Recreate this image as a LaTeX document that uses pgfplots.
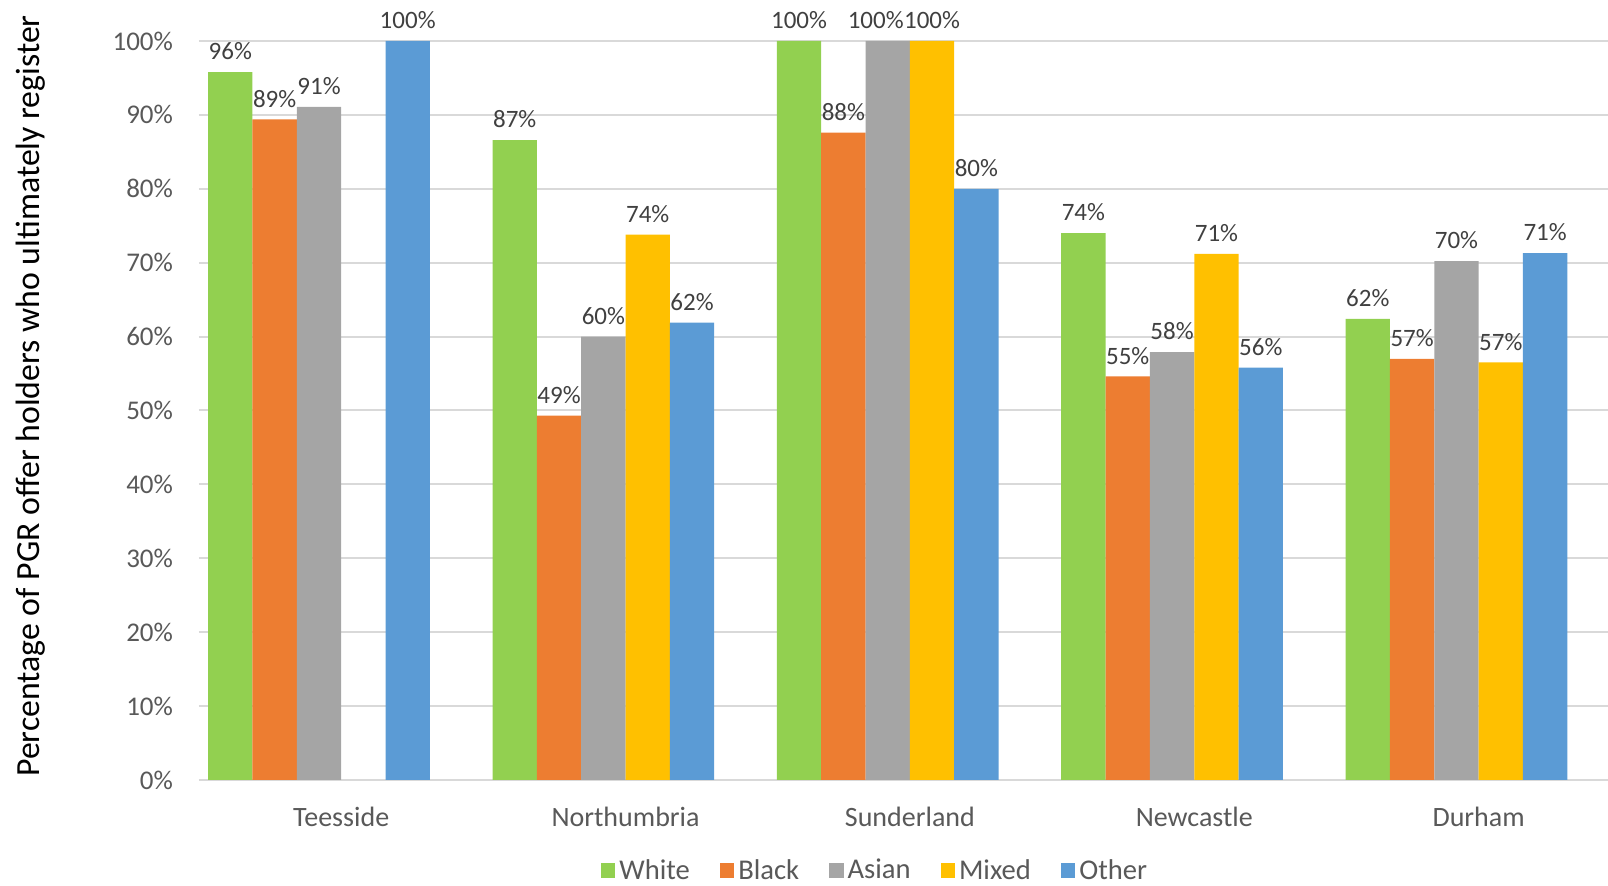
\documentclass[border=0pt]{standalone}
\usepackage{pgfplots}
\usepackage{pgfplotstable}
\pgfplotsset{compat=1.18}
\usepackage{fontspec}
\setmainfont{Carlito}
\definecolor{cWhite}{HTML}{92D050}
\definecolor{cBlack}{HTML}{ED7D31}
\definecolor{cAsian}{HTML}{A5A5A5}
\definecolor{cMixed}{HTML}{FFC000}
\definecolor{cOther}{HTML}{5B9BD5}
\definecolor{gridc}{HTML}{D9D9D9}
\definecolor{tickc}{HTML}{595959}
\definecolor{labc}{HTML}{404040}

\pgfplotstableread{
x y lab
0 95.8 96
1 86.6 87
2 100 100
3 74.0 74
4 62.4 62
}\tWhite
\pgfplotstableread{
x y lab
0 89.4 89
1 49.3 49
2 87.6 88
3 54.6 55
4 57.0 57
}\tBlack
\pgfplotstableread{
x y lab
0 91.1 91
1 60.0 60
2 100 100
3 57.9 58
4 70.2 70
}\tAsian
\pgfplotstableread{
x y lab
1 73.8 74
2 100 100
3 71.2 71
4 56.5 57
}\tMixed
\pgfplotstableread{
x y lab
0 100 100
1 61.9 62
2 80.0 80
3 55.8 56
4 71.3 71
}\tOther

\begin{document}
\begin{tikzpicture}
\begin{axis}[
  at={(0,0)}, anchor=south west,
  scale only axis, width=704.5pt, height=369.5pt,
  xmin=-0.5, xmax=4.455, ymin=0, ymax=100,
  ybar, bar width=22.17pt,
  axis line style={draw=none},
  ytick={0,10,...,100},
  /pgf/number format/assume math mode=true,
  yticklabel={\pgfmathprintnumber{\tick}\%},
  ymajorgrids, grid style={draw=gridc, line width=1pt},
  major tick length=0pt,
  xtick={0,1,2,3,4},
  xticklabels={Teesside,Northumbria,Sunderland,Newcastle,Durham},
  yticklabel style={xshift=-9.5pt, font=\fontsize{13.5}{15}\selectfont, text=tickc},
  xticklabel style={yshift=-10pt, font=\fontsize{14}{16}\selectfont, text=tickc},
  clip=false,
  nodes near coords={\pgfplotspointmeta\%},
  point meta=explicit symbolic,
  nodes near coords style={font=\fontsize{12.5}{14}\selectfont, text=labc, yshift=2.5pt},
  legend style={draw=none, at={(0.4805,-0.1226)}, anchor=center,
    legend columns=5, font=\fontsize{14.3}{16}\selectfont, text=tickc,
    /tikz/every even column/.append style={column sep=13pt}},
]
\addplot[fill=cWhite, draw=none, bar shift=-55.425pt, legend image code/.code={\fill[cWhite] (0pt,-3.5pt) rectangle (7.2pt,3.7pt);}] table[x=x,y=y,meta=lab] {\tWhite};
\addplot[fill=cBlack, draw=none, bar shift=-33.255pt, legend image code/.code={\fill[cBlack] (0pt,-3.5pt) rectangle (7.2pt,3.7pt);}] table[x=x,y=y,meta=lab] {\tBlack};
\addplot[fill=cAsian, draw=none, bar shift=-11.085pt, coordinate style/.condition={x==2}{xshift=-6pt}, legend image code/.code={\fill[cAsian] (0pt,-3.5pt) rectangle (7.2pt,3.7pt);}] table[x=x,y=y,meta=lab] {\tAsian};
\addplot[fill=cMixed, draw=none, bar shift=11.085pt, legend image code/.code={\fill[cMixed] (0pt,-3.5pt) rectangle (7.2pt,3.7pt);}] table[x=x,y=y,meta=lab] {\tMixed};
\addplot[fill=cOther, draw=none, bar shift=33.255pt, legend image code/.code={\fill[cOther] (0pt,-3.5pt) rectangle (7.2pt,3.7pt);}] table[x=x,y=y,meta=lab] {\tOther};
\legend{White,Black,Asian,Mixed,Other}
\end{axis}
\node[rotate=90, font=\fontsize{16.9}{18}\selectfont, text=black] at (-84.1pt,192pt) {Percentage of PGR offer holders who ultimately register};
\pgfresetboundingbox
\path[use as bounding box] (-99.5pt,-53pt) rectangle (704.5pt,390pt);
\end{tikzpicture}
\end{document}
